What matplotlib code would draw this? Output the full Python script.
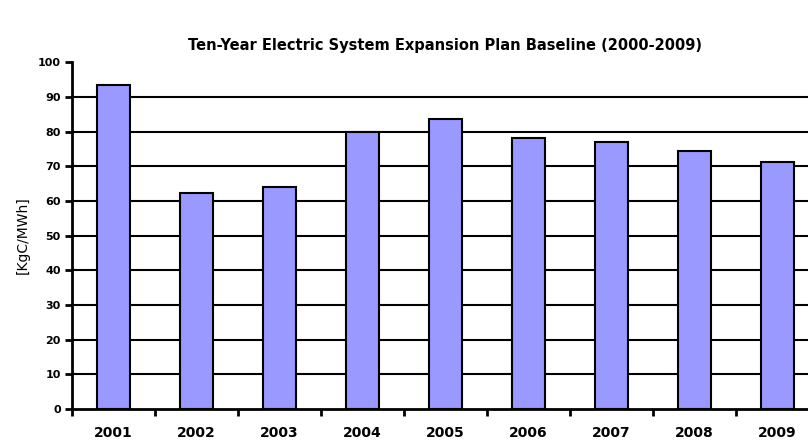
import matplotlib
matplotlib.use('Agg')
import matplotlib.pyplot as plt

# datos
years = ['2001', '2002', '2003', '2004', '2005', '2006', '2007', '2008', '2009']
values = [93.5, 62.3, 64.1, 80.0, 83.7, 78.2, 76.9, 74.5, 71.1]
yticks = [0, 10, 20, 30, 40, 50, 60, 70, 80, 90, 100]

fig = plt.figure(figsize=(8.08, 4.43), dpi=100)
ax = fig.add_axes([0.0891, 0.0767, 0.9245, 0.783])

x = range(len(years))
ax.bar(x, values, width=0.39, color='#9999FF', edgecolor='black', linewidth=1.5, zorder=3)

# grid (sin linea en 100)
for v in yticks[1:-1]:
    ax.axhline(v, color='black', linewidth=1.5, zorder=1)

ax.set_xlim(-0.5, len(years) - 0.5)
ax.set_ylim(0, 100)
ax.set_yticks(yticks)
ax.set_yticklabels([str(v) for v in yticks], fontsize=8, fontweight='bold')

# ticks entre categorias
ax.set_xticks([i - 0.5 for i in range(len(years) + 1)])
ax.set_xticklabels([])
ax.set_xticks(list(x), minor=True)
ax.set_xticklabels(years, minor=True, fontsize=10, fontweight='bold')
ax.tick_params(axis='x', which='minor', length=0, pad=12)
ax.tick_params(axis='x', which='major', length=5, width=2, direction='out')
ax.tick_params(axis='y', length=5, width=2, direction='out', pad=3)

for s in ['top', 'right']:
    ax.spines[s].set_visible(False)
ax.spines['left'].set_linewidth(2)
ax.spines['bottom'].set_linewidth(2)

ax.set_ylabel('[KgC/MWh]', fontsize=10, labelpad=6)
ax.set_title('Ten-Year Electric System Expansion Plan Baseline (2000-2009)',
             fontsize=10.5, fontweight='bold', pad=9)

fig.savefig('out.png', dpi=100)
